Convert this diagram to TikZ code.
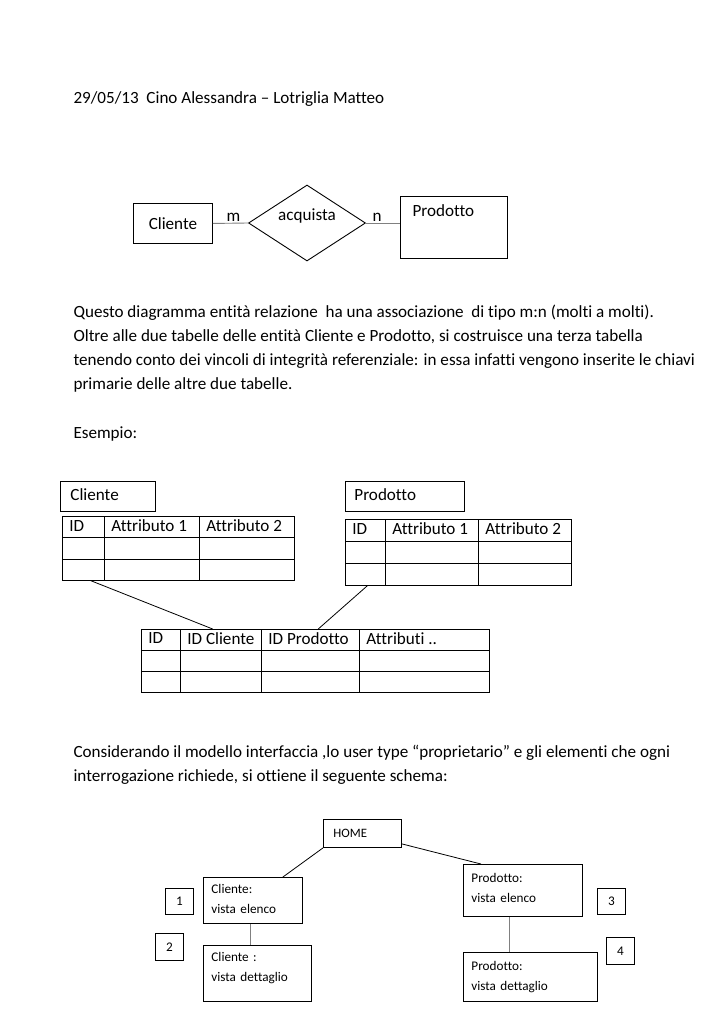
\documentclass[tikz,border=0pt]{standalone}
\usepackage{fontspec}
\setmainfont{Carlito}[Ligatures=CommonOff]
\usetikzlibrary{shapes.geometric,calc}
\newcommand\bodyfont{\fontsize{17.1pt}{21pt}\selectfont}
\newcommand\navfont{\fontsize{13.2pt}{20pt}\selectfont}
\newcommand\homefont{\fontsize{12.8pt}{15pt}\selectfont}
\tikzset{
  box/.style={draw,line width=0.9pt,inner sep=0pt,anchor=north west},
  cell/.style={box,line width=0.7pt},
  navbox/.style={box,font=\navfont,align=left,inner xsep=8pt},
  numbox/.style={box,font=\navfont,minimum width=28pt,minimum height=26pt},
  txt/.style={anchor=base west},
  link/.style={line width=0.8pt},
  glink/.style={line width=0.9pt,gray}
}
\begin{document}
\begin{tikzpicture}[x=1pt,y=-1pt,font=\bodyfont]
\fill[white] (0,0) rectangle (724,1024);
\useasboundingbox (0,0) rectangle (724,1024);

% intestazione
\node[txt] (head) at (70,104) {29/05/13\ \ Cino Alessandra -- Lotriglia Matteo};

% schema E/R
\node[box,minimum width=79pt,minimum height=40pt] (cliente) at (133,203) {Cliente};
\node[draw,diamond,line width=0.9pt,inner sep=0pt,minimum width=117pt,minimum height=76pt]
  (acquista) at (307,223) {\raisebox{2pt}[0pt][0pt]{acquista}};
\node[txt] (m) at (223,222) {m};
\node[txt] (n) at (369,222) {n};
\node[box,minimum width=107pt,minimum height=62pt] (prodotto) at (400,196) {};
\node[txt] (prodlab) at (409,217) {Prodotto};
\draw[glink] (cliente.east) -- (acquista.west);
\draw[glink] (acquista.east) -- (prodotto.west |- acquista.east);

% testo
\node[txt] (p1) at (70,317) {Questo diagramma entità relazione\ \ ha una associazione\ \ di tipo m:n (molti a molti).};
\node[txt] (p2) at (70,341) {Oltre alle due tabelle delle entità Cliente e Prodotto, si costruisce una terza tabella};
\node[txt] (p3) at (70,365) {tenendo conto dei vincoli di integrità referenziale: in essa infatti vengono inserite le chiavi};
\node[txt] (p4) at (70,389) {primarie delle altre due tabelle.};
\node[txt] (es) at (70,438) {Esempio:};

% tabelle
\node[box,minimum height=30pt] (tcli) at (60,481) {\makebox[95pt][l]{\hspace{10pt}Cliente\vphantom{Ag}}};
\node[box,minimum height=30pt] (tprd) at (345,481) {\makebox[119pt][l]{\hspace{9pt}Prodotto\vphantom{Ag}}};

\foreach \cx/\cw/\ct [count=\i] in {62/42/ID,104/95/Attributo 1,199/95/Attributo 2}{
  \node[cell,minimum height=21.3pt] (cli\i) at (\cx,516) {\makebox[\cw pt][l]{\hspace{7pt}\ct\vphantom{Ag}}};
  \foreach \r in {1,2}
    \node[cell,minimum width=\cw pt,minimum height=21.3pt] (cli\i-\r) at (\cx,516+21.3*\r) {};
}
\foreach \cx/\cw/\ct [count=\i] in {345/40/ID,385/93/Attributo 1,478/93/Attributo 2}{
  \node[cell,minimum height=22pt] (prd\i) at (\cx,519) {\makebox[\cw pt][l]{\hspace{7pt}\ct\vphantom{Ag}}};
  \foreach \r in {1,2}
    \node[cell,minimum width=\cw pt,minimum height=22pt] (prd\i-\r) at (\cx,519+22*\r) {};
}
\foreach \cx/\cw/\ct [count=\i] in {141/39/ID,180/81/ID Cliente,261/98/ID Prodotto,359/130/Attributi ..}{
  \node[cell,minimum height=21pt] (lnk\i) at (\cx,629) {\makebox[\cw pt][l]{\hspace{7pt}\ct\vphantom{Ag}}};
  \foreach \r in {1,2}
    \node[cell,minimum width=\cw pt,minimum height=21pt] (lnk\i-\r) at (\cx,629+21*\r) {};
}
\draw[link] ($(cli1-2.south west)!0.67!(cli1-2.south east)$) -- ($(lnk2.north west)!0.4!(lnk2.north east)$);
\draw[link] ($(prd1-2.south west)!0.55!(prd1-2.south east)$) -- ($(lnk3.north west)!0.58!(lnk3.north east)$);

% testo
\node[txt] (p5) at (70,757) {Considerando il modello interfaccia ,lo user type “proprietario” e gli elementi che ogni};
\node[txt] (p6) at (70,781) {interrogazione richiede, si ottiene il seguente schema:};

% schema di navigazione
\node[box,minimum height=28pt,font=\homefont] (home) at (323,819) {\makebox[78pt][l]{\hspace{10pt}HOME}};
\node[navbox,text width=83pt,minimum height=46pt] (celenco) at (203,877) {Cliente:\\vista elenco\rule[-4pt]{0pt}{0pt}};
\node[navbox,text width=92pt,minimum height=56pt] (cdett) at (203,945) {Cliente :\\vista dettaglio\rule[-13pt]{0pt}{0pt}};
\node[navbox,text width=103pt,minimum height=52pt] (pelenco) at (463,864) {Prodotto:\\vista elenco\rule[-5pt]{0pt}{0pt}};
\node[navbox,text width=118pt,minimum height=49pt] (pdett) at (463,952) {Prodotto:\\vista dettaglio};
\node[numbox] (n1) at (165,888) {1};
\node[numbox,minimum height=27pt] (n2) at (155,933) {2};
\node[numbox] (n3) at (597,888) {3};
\node[numbox,minimum height=27pt] (n4) at (606,937) {4};
\draw[link] (home.south west) -- ($(celenco.north west)!0.8!(celenco.north east)$);
\draw[link] ([yshift=4pt]home.south east) -- ($(pelenco.north west)!0.15!(pelenco.north east)$);
\draw[glink] ($(celenco.south west)!0.47!(celenco.south east)$) -- (cdett.north west -| {$(celenco.south west)!0.47!(celenco.south east)$});
\draw[glink] ($(pelenco.south west)!0.39!(pelenco.south east)$) -- (pdett.north west -| {$(pelenco.south west)!0.39!(pelenco.south east)$});
\end{tikzpicture}
\end{document}
